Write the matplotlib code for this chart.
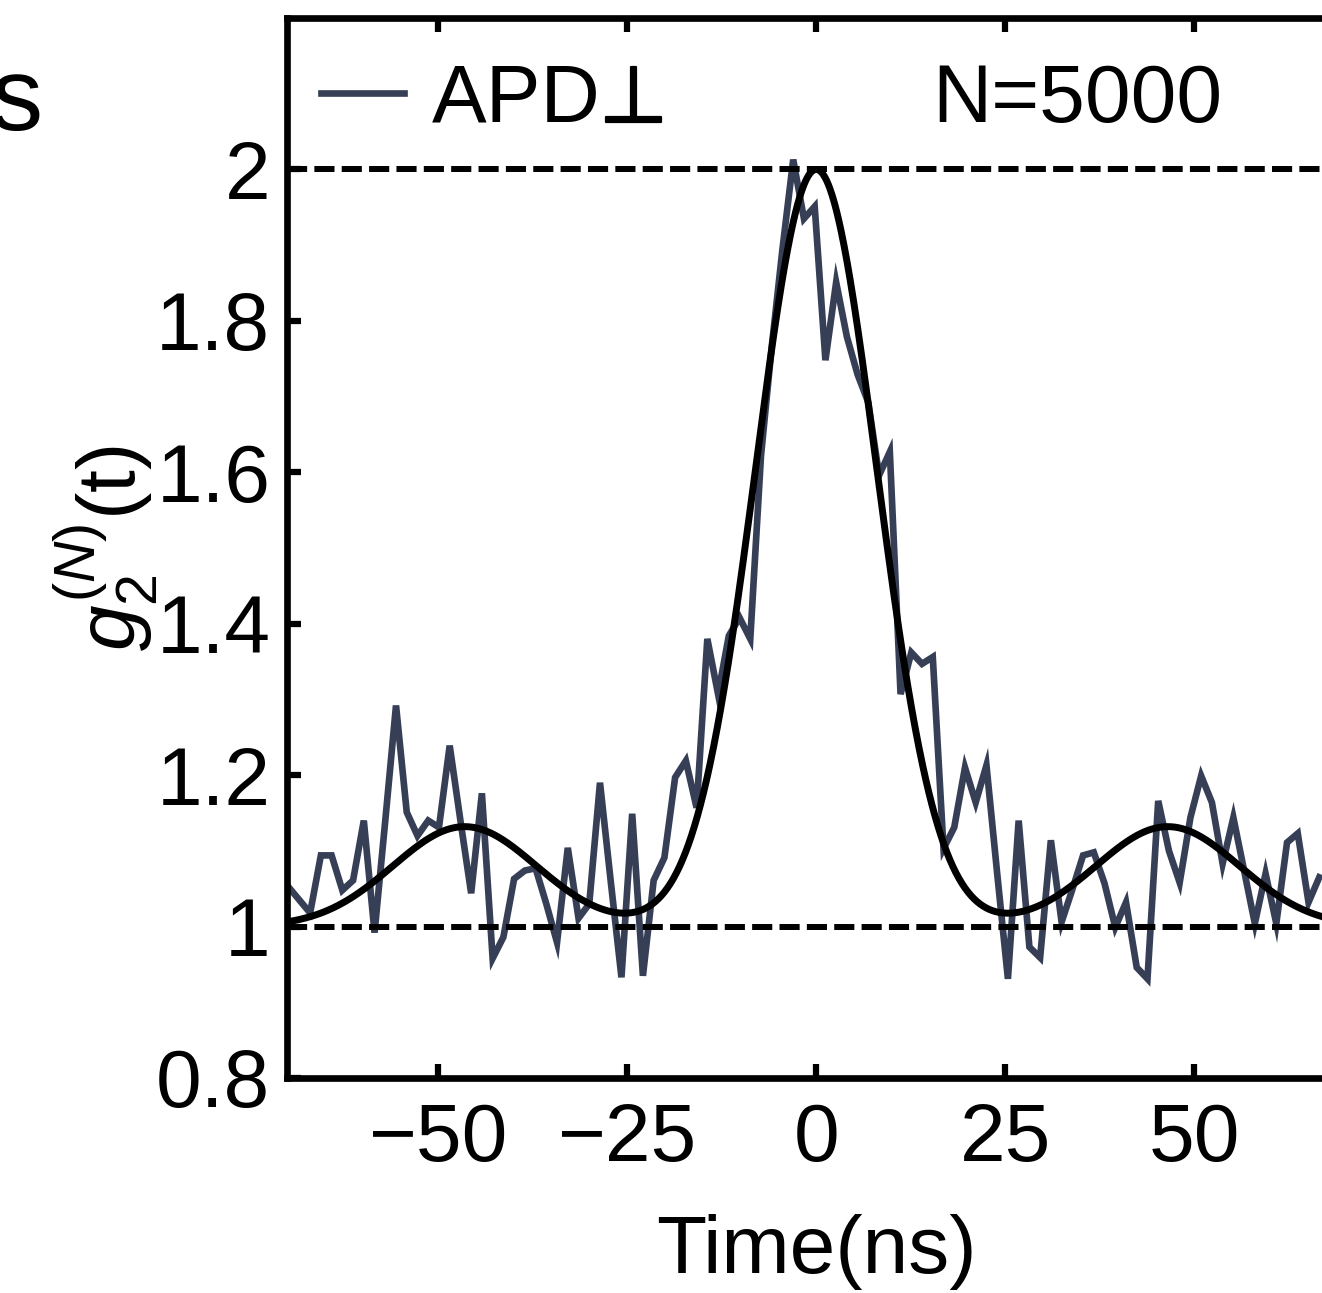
import numpy as np
import matplotlib
matplotlib.use("Agg")
import matplotlib.pyplot as plt
import matplotlib.patheffects as pe
from matplotlib.lines import Line2D

plt.rcParams["font.family"] = ["Liberation Sans", "DejaVu Sans"]
plt.rcParams["mathtext.fontset"] = "custom"
plt.rcParams["mathtext.rm"] = "Liberation Sans"
plt.rcParams["mathtext.it"] = "Liberation Sans:italic"
plt.rcParams["lines.scale_dashes"] = False

# Measured correlation histogram (regular time bins)
bin_width = 1.42          # ns
t_first = -69.78          # ns, centre of first bin
g2_meas = [
    1.052, 1.035, 1.018, 1.094, 1.094, 1.048, 1.061, 1.140, 0.992, 1.140,
    1.292, 1.151, 1.120, 1.140, 1.131, 1.239, 1.140, 1.044, 1.176, 0.958,
    0.986, 1.063, 1.074, 1.077, 1.030, 0.979, 1.104, 1.011, 1.030, 1.190,
    1.060, 0.933, 1.149, 0.935, 1.061, 1.091, 1.197, 1.219, 1.157, 1.380,
    1.307, 1.384, 1.408, 1.380, 1.622, 1.766, 1.895, 2.013, 1.935, 1.951,
    1.748, 1.851, 1.779, 1.729, 1.692, 1.596, 1.627, 1.307, 1.362, 1.347,
    1.356, 1.103, 1.131, 1.210, 1.164, 1.213, 1.070, 0.931, 1.140, 0.973,
    0.959, 1.114, 1.006, 1.049, 1.094, 1.098, 1.057, 0.999, 1.032, 0.946,
    0.931, 1.166, 1.100, 1.058, 1.144, 1.199, 1.164, 1.083, 1.144, 1.074,
    1.004, 1.070, 1.004, 1.111, 1.123, 1.032, 1.065,
]
time_ns = t_first + bin_width * np.arange(len(g2_meas))

# Fit model: central bunching peak plus two revival peaks
fit_center_sigma = 8.0
fit_side_pos = 46.5
fit_side_amp = 0.132
fit_side_sigma = 9.5

t_fit = np.linspace(-75, 75, 1501)
g2_fit = (1.0
          + np.exp(-t_fit**2 / (2 * fit_center_sigma**2))
          + fit_side_amp * (np.exp(-(t_fit - fit_side_pos)**2 / (2 * fit_side_sigma**2))
                            + np.exp(-(t_fit + fit_side_pos)**2 / (2 * fit_side_sigma**2))))

x_ticks = [-50, -25, 0, 25, 50]
y_ticks = [0.8, 1.0, 1.2, 1.4, 1.6, 1.8, 2.0]
y_tick_labels = ["0.8", "1", "1.2", "1.4", "1.6", "1.8", "2"]
ref_levels = [1.0, 2.0]

DATA_COLOR = "#363f56"
FS = 59

W, H = 1322, 1293
fig = plt.figure(figsize=(W / 100, H / 100), dpi=100)
ax = fig.add_axes([287 / W, 1 - 1078 / H, 1058.4 / W, 1060 / H])

ax.plot(time_ns, g2_meas, color=DATA_COLOR, lw=4.8,
        solid_joinstyle="miter", zorder=2)
for lvl in ref_levels:
    ax.axhline(lvl, color="black", lw=4.3, dashes=(14.5, 5.2), zorder=3)
ax.plot(t_fit, g2_fit, color="black", lw=5.0, zorder=4)

ax.set_xlim(-70, 70)
ax.set_ylim(0.8, 2.2)
ax.set_xticks(x_ticks)
ax.set_yticks(y_ticks)
ax.set_yticklabels(y_tick_labels)

for sp in ax.spines.values():
    sp.set_linewidth(4.8)

ax.tick_params(direction="in", length=10, width=4.5, top=True, right=True,
               labelsize=FS)
ax.tick_params(axis="x", pad=17)
ax.tick_params(axis="y", pad=12)

ax.set_xlabel("Time(ns)", fontsize=FS, labelpad=26)
ax.set_ylabel(r"$g_2^{(N)}$(t)", fontsize=FS)
ax.yaxis.set_label_coords(-0.120, 0.5)

# Legend: line sample + "APD", followed by the perpendicular sign
handle = Line2D([], [], color=DATA_COLOR, lw=4.8)
leg = ax.legend([handle], ["APD"], loc="upper left",
                bbox_to_anchor=(0.032, 0.96), frameon=False, fontsize=FS,
                handlelength=1.02, handletextpad=0.34, borderpad=0,
                borderaxespad=0)

fig.canvas.draw()
renderer = fig.canvas.get_renderer()
txt = leg.get_texts()[0]
bx, by = txt.get_transform().transform((0, 0))
axw = ax.bbox.width
axh = ax.bbox.height
shift_x = (432 - bx) / axw
shift_y = ((H - 122) - by) / axh
leg.set_bbox_to_anchor((0.032 + shift_x, 0.96 + shift_y), transform=ax.transAxes)
fig.canvas.draw()
bb = txt.get_window_extent(renderer)
bx, by = txt.get_transform().transform((0, 0))
fig.text((bb.x1 - 2) / W, by / H, "\u22a5", fontsize=FS - 2, family="DejaVu Sans",
         ha="left", va="baseline",
         path_effects=[pe.withStroke(linewidth=1.6, foreground="black")])

ax.text(0.610, 0.902, "N=5000", transform=ax.transAxes, fontsize=FS,
        ha="left", va="baseline")

fig.text(42 / W, 1 - 130 / H, "s", fontsize=75, ha="right", va="baseline")

fig.savefig("out.png", dpi=100)
